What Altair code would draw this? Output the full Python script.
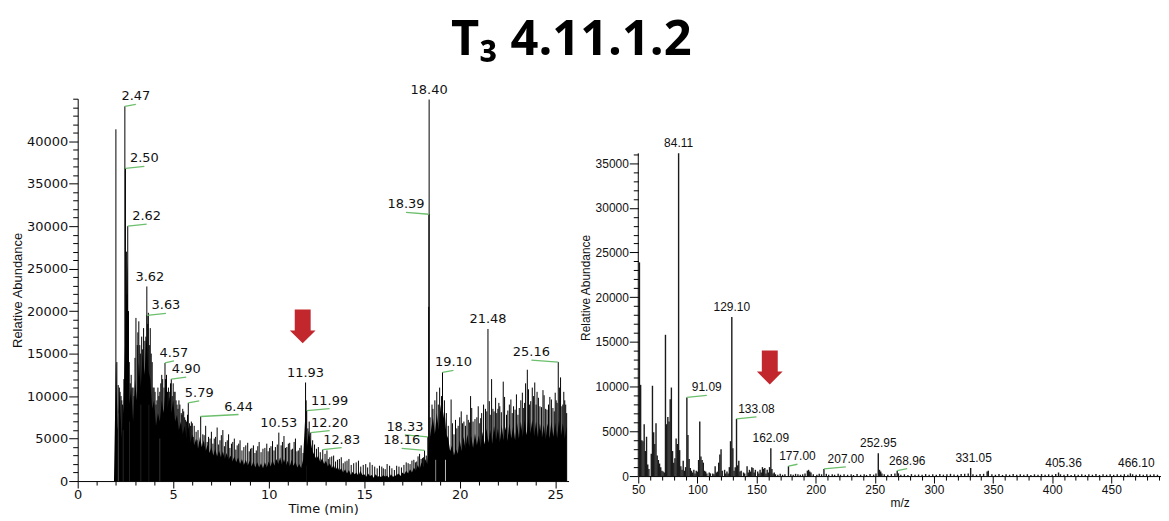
import altair as alt
import pandas as pd

# ---------------- chromatogram (left panel) ----------------
tic_start = 1.9   # min, first listed scan
tic_step = 0.1    # min between listed scans
tic_level = [
    0,
    14000, 6000, 10500, 5000, 9000, 18000, 26000, 9000, 11000, 7000,
    12000, 9500, 14000, 11000, 15000, 12500, 17000, 13000, 12000, 8500,
    9500, 6500, 8000, 7000, 9500, 8000, 11000, 8500, 10000, 8000,
    9500, 7000, 7800, 6000, 7000, 5500, 6500, 5000, 6500, 4500,
    5500, 4200, 5000, 3800, 5200, 4000, 4800, 3500, 4300, 3300,
    4000, 3000, 3800, 2900, 3600, 2800, 3500, 2600, 3300, 2500,
    3000, 2300, 2900, 2200, 2800, 2000, 2600, 1900, 2500, 1800,
    2400, 1700, 2300, 1600, 2200, 1600, 2100, 1500, 2200, 1600,
    2300, 1700, 2500, 1800, 2600, 2000, 2800, 1900, 2600, 1800,
    2400, 1700, 2500, 1800, 2300, 1600, 2000, 1500, 2500, 7000,
    4000, 6000, 4500, 3500, 3000, 2600, 3000, 2200, 2700, 2000,
    2400, 1700, 2100, 1500, 1900, 1300, 1700, 1200, 1500, 1000,
    1400, 900, 1300, 700, 1100, 800, 1000, 600, 1200, 700,
    800, 500, 900, 600, 700, 400, 800, 500, 600, 450,
    700, 500, 650, 400, 800, 500, 600, 700, 900, 600,
    1000, 800, 1200, 900, 1400, 1000, 1600, 1200, 1900, 1400,
    2200, 1600, 2600, 2000, 4500, 6000, 7500, 5500, 8000, 6000,
    9000, 7000, 8500, 5500, 5000, 3500, 4200, 3000, 3800, 3200,
    4800, 3500, 5200, 3800, 5500, 4000, 5300, 3900, 5600, 4200,
    5400, 4000, 5800, 4300, 6200, 4500, 6000, 4400, 6500, 4800,
    6200, 4600, 6600, 4800, 6400, 4700, 6800, 5000, 6500, 4800,
    6900, 5000, 7000, 5200, 7200, 5400, 7500, 5600, 7200, 5300,
    7000, 5100, 6800, 5000, 6600, 4900, 6800, 5000, 7000, 5200,
    6900, 5000, 7200, 5300, 6800, 5000, 6500,
]
tic_time = [round(tic_start + i * tic_step, 2) for i in range(len(tic_level))]

spike_time = [
    2.00, 2.05, 2.12, 2.18, 2.27, 2.35, 2.47, 2.50, 2.55, 2.62, 2.66, 2.75, 2.85, 2.95,
    3.05, 3.12, 3.20, 3.28, 3.35, 3.45, 3.52, 3.62, 3.63, 3.70, 3.80, 3.90,
    4.00, 4.10, 4.25, 4.35, 4.45, 4.57, 4.65, 4.75, 4.82, 4.90,
    5.00, 5.10, 5.20, 5.30, 5.42, 5.50, 5.60, 5.70, 5.79, 5.90,
    6.00, 6.10, 6.20, 6.30, 6.44, 6.55, 6.70, 6.85, 7.00, 7.15, 7.30, 7.45, 7.60, 7.75, 7.90,
    8.05, 8.20, 8.35, 8.50, 8.70, 8.90, 9.05, 9.20, 9.35, 9.50, 9.70, 9.90,
    10.05, 10.20, 10.35, 10.53, 10.65, 10.80, 10.95, 11.10, 11.25, 11.40, 11.55, 11.70,
    11.93, 11.96, 11.99, 12.05, 12.12, 12.20, 12.30, 12.40, 12.50, 12.60, 12.70, 12.83, 12.95,
    13.05, 13.20, 13.40, 13.60, 13.80, 14.00, 14.20, 14.45, 14.70, 14.95,
    15.30, 15.55, 15.80, 16.00, 16.20, 16.45, 16.70, 16.95, 17.20, 17.40, 17.60, 17.75, 17.90,
    18.05, 18.10, 18.16, 18.25, 18.33, 18.38, 18.39, 18.40, 18.45, 18.55, 18.60, 18.70, 18.80,
    18.88, 18.95, 19.05, 19.10, 19.20, 19.30, 19.40, 19.55, 19.70, 19.85,
    20.00, 20.15, 20.30, 20.45, 20.57, 20.70, 20.90, 21.05, 21.15, 21.35, 21.48, 21.60, 21.67, 21.80,
    22.00, 22.10, 22.28, 22.45, 22.60, 22.75, 22.90, 23.05, 23.20, 23.35, 23.45, 23.54, 23.65, 23.80, 23.93,
    24.05, 24.20, 24.36, 24.50, 24.65, 24.80, 24.95, 25.05, 25.16, 25.28, 25.40, 25.50, 25.60,
]
spike_level = [
    41400, 14000, 11300, 11000, 10000, 9000, 44100, 36800, 27000, 30000, 20000, 11500, 11000, 10000,
    19200, 16000, 18800, 15000, 17000, 18000, 16500, 22900, 19500, 19800, 18000, 14000,
    11000, 9000, 10000, 11500, 12000, 13900, 12500, 11000, 10500, 12000,
    11500, 10500, 9000, 9500, 8000, 8500, 7500, 7000, 9200, 6500,
    6800, 6500, 5800, 6000, 7600, 5500, 6500, 5200, 5800, 5000, 6300, 4800, 6000, 4600, 5500,
    4400, 5000, 4200, 4800, 4000, 4500, 3800, 4200, 3600, 4600, 3800, 4400,
    3900, 4700, 4000, 5700, 4200, 5300, 4000, 4500, 3800, 5000, 3600, 4200,
    11600, 9500, 8300, 6200, 7000, 5700, 4800, 4300, 3800, 4000, 3400, 3700, 3200,
    3600, 2800, 3000, 2500, 2800, 2300, 2600, 2100, 2400, 1900,
    2200, 1700, 1800, 1500, 2000, 1500, 1800, 1600, 2200, 2000, 2500, 2300, 3200,
    2700, 2800, 3600, 3000, 5200, 20500, 31400, 44900, 7500, 9000, 8500, 9500, 10500,
    9000, 11000, 10000, 12800, 9500, 8000, 6500, 9600, 5500, 6200,
    7500, 6800, 6500, 7200, 10000, 7000, 7500, 6800, 8000, 8500, 17900, 7800, 12000, 8200,
    8500, 8800, 11700, 7800, 9000, 8000, 8400, 7800, 9500, 8600, 11500, 13100, 9000, 11000, 11600,
    10500, 8800, 10700, 8500, 9000, 9600, 8200, 9500, 14000, 12200, 9000, 9500, 8000,
]

# smaller noise spikes between the main ones
noise_time = [
    2.22, 2.31, 2.42, 2.58, 2.70, 2.80, 2.90, 3.00, 3.15, 3.25, 3.40, 3.57, 3.67, 3.75, 3.85, 3.95,
    4.05, 4.15, 4.20, 4.30, 4.40, 4.52, 4.60, 4.70, 4.86, 4.95, 5.05, 5.15, 5.25, 5.35, 5.46,
    5.55, 5.65, 5.75, 5.85, 5.95,
    6.05, 6.25, 6.62, 6.78, 6.93, 7.08, 7.22, 7.38, 7.52, 7.68, 7.83, 7.97, 8.12, 8.28, 8.43,
    8.60, 8.80, 8.98, 9.12, 9.28, 9.43, 9.60, 9.80, 9.97, 10.12, 10.28, 10.45, 10.72, 10.88,
    11.03, 11.18, 11.33, 11.48, 11.63, 11.80,
    13.12, 13.30, 13.50, 13.70, 13.90, 14.10, 14.32, 14.58, 14.82, 15.08, 15.18, 15.42, 15.68,
    15.92, 16.10, 16.33, 16.58, 16.82, 17.08, 17.30, 17.50, 17.68, 17.82, 17.98,
    19.62, 19.78, 19.92, 20.08, 20.22, 20.38, 20.52, 20.63, 20.80, 20.97, 21.10, 21.25, 21.42,
    21.55, 21.74, 21.88, 21.94, 22.05, 22.18, 22.35, 22.52, 22.68, 22.82, 22.97, 23.12, 23.28,
    23.40, 23.60, 23.72, 23.87, 24.00, 24.12, 24.28, 24.42, 24.57, 24.72, 24.88, 25.00, 25.10,
    25.22, 25.35, 25.45, 25.55,
]
noise_level = [
    10500, 9500, 12000, 22000, 14000, 12500, 11000, 14500, 17500, 16000, 15500, 17000, 18500, 16000, 15000, 11000,
    10500, 9500, 11000, 10500, 12500, 11000, 12000, 10500, 11500, 10000, 10500, 9500, 8500, 9000, 7800,
    8200, 7200, 7800, 6800, 7000,
    5200, 4800, 5400, 4600, 5000, 4400, 5200, 4300, 5400, 4100, 4800, 3900, 4600, 3700, 4400,
    3600, 4200, 3500, 3900, 3300, 4100, 3400, 3900, 3500, 4100, 3600, 4300, 4600, 3900,
    4400, 3700, 4600, 3500, 3900, 3300,
    2600, 2900, 2300, 2600, 2100, 2400, 1900, 2200, 1700, 2000, 1600, 1900, 1500,
    1700, 1400, 1800, 1300, 1700, 1900, 2100, 2400, 2200, 2900, 2600,
    6800, 7200, 6500, 8200, 7000, 7800, 6900, 8600, 7300, 8800, 7400, 9000, 8200,
    9400, 8500, 9800, 8000, 9200, 8100, 9900, 8300, 9600, 8800, 10200, 8600, 10400,
    9200, 10800, 9400, 10000, 9000, 9800, 8700, 10100, 8400, 9900, 8600, 10400, 9200,
    11000, 8800, 10500, 9000,
]

dip_time = [2.13, 2.36, 2.70, 3.30, 3.72, 4.30, 11.97, 18.75, 19.25]
dip_level = [8000, 6000, 7000, 9000, 9000, 5000, 1800, 2500, 2500]

peak_time = [2.47, 2.50, 2.62, 3.62, 3.63, 4.57, 4.90, 5.79, 6.44, 10.53, 11.93, 11.99,
             12.20, 12.83, 18.16, 18.33, 18.39, 18.40, 19.10, 21.48, 25.16]
peak_level = [44100, 36800, 30000, 22900, 19500, 13900, 12000, 9200, 7600, 5700, 11600, 8300,
              5700, 3700, 3600, 5200, 31400, 44900, 12800, 17900, 14000]

# ---------------- mass spectrum (right panel) ----------------
mz = [
    51, 52, 53, 54, 55, 56, 57, 58, 59, 61, 62, 63, 64, 65, 66, 67, 68, 69, 70, 71, 72,
    73, 74, 75, 76, 77, 78, 79, 80, 81, 82, 83, 84.11, 85, 86, 87, 88, 89, 90,
    91.09, 92, 93, 94, 95, 96, 97, 98, 99, 100, 101, 102, 103, 104, 105, 106, 107, 108,
    110, 111, 113, 114, 115, 116, 117, 118, 119, 120, 121, 123, 124, 125, 126, 127, 128,
    129.10, 130, 131, 132, 133.08, 134, 135, 136, 137, 139, 140, 142, 143, 144, 145, 146,
    147, 148, 149, 151, 152, 153, 154, 155, 156, 157, 158, 159, 160, 161, 162.09, 163,
    164, 165, 166, 168, 170, 172, 174, 177.00, 179, 181, 183, 185, 187, 189, 191, 193,
    194, 195, 196, 198, 201, 203, 205, 207.00, 209, 211, 214, 216, 219, 221, 224, 227,
    230, 232, 235, 238, 241, 243, 246, 249, 251, 252.95, 254, 255, 256, 258, 261, 264,
    267, 268.96, 270, 272, 275, 278, 281, 284, 287, 290, 293, 296, 299, 302, 305, 308,
    311, 314, 317, 320, 323, 326, 329, 331.05, 333, 336, 339, 342, 345, 346, 349, 352,
    355, 358, 361, 364, 367, 370, 373, 376, 379, 382, 385, 388, 391, 394, 397, 400, 403,
    405.36, 407, 410, 413, 416, 419, 422, 425, 428, 431, 434, 437, 440, 443, 446, 449,
    452, 455, 458, 461, 464, 466.10, 468, 471, 474, 477, 480, 483, 486, 489,
]
abund = [
    23900, 10200, 4000, 3900, 5800, 2800, 4400, 1300, 800, 2500, 10100, 4900, 3600, 5900, 2300, 1800, 1400, 1000, 600, 500, 400,
    15800, 5800, 6600, 6100, 8600, 9900, 2800, 1500, 2000, 4200, 3600, 36100, 2900, 1100, 700, 1700, 600, 1000,
    8800, 4600, 1900, 900, 600, 400, 700, 300, 600, 500, 1800, 6100, 2200, 1800, 1500, 600, 500, 300,
    400, 300, 300, 200, 1100, 400, 500, 1500, 2400, 3000, 600, 700, 300, 500, 300, 1000, 3900,
    17800, 3100, 600, 1000, 6400, 1200, 1700, 500, 600, 400, 300, 1100, 400, 700, 500, 1000,
    900, 400, 700, 500, 300, 700, 400, 1000, 800, 900, 300, 700, 400, 1000, 3100, 800,
    300, 400, 200, 150, 250, 150, 200, 1100, 200, 150, 250, 200, 150, 200, 300, 600,
    700, 500, 400, 200, 150, 250, 200, 800, 250, 150, 200, 150, 250, 150, 200, 150,
    200, 120, 220, 150, 200, 130, 220, 160, 300, 2550, 700, 500, 300, 200, 150, 220,
    300, 600, 300, 150, 200, 130, 220, 150, 180, 140, 220, 160, 200, 150, 230, 160,
    200, 250, 180, 150, 220, 250, 300, 900, 200, 150, 220, 250, 500, 600, 200, 150,
    220, 130, 200, 150, 220, 140, 200, 160, 210, 130, 200, 150, 220, 140, 200, 150, 230,
    400, 200, 150, 220, 130, 200, 160, 210, 140, 200, 150, 220, 130, 200, 150, 210,
    140, 200, 160, 210, 150, 300, 200, 140, 210, 150, 200, 160, 210, 150,
]

mz_peak = [84.11, 91.09, 129.10, 133.08, 162.09, 177.00, 207.00, 252.95, 268.96, 331.05, 405.36, 466.10]
mz_peak_abund = [36100, 8800, 17800, 6400, 3100, 1100, 800, 2550, 600, 900, 400, 300]

# markers (red arrows)
arrow_time, arrow_level = [11.78], [18200]
arrow_mz, arrow_abund = [161.2], [12140]

# ---------------- layout / style constants ----------------
L_W, L_H = 493, 384
L_XMAX, L_YMAX = 25.7, 45000
R_W, R_H = 525, 379
R_XMIN, R_XMAX = 50, 492
R_YMAX = 42200          # frame extends above the axis line (spectrum panel sits lower)
R_AXIS_TOP = 36100
L_PPX = L_W / L_XMAX
L_PPY = L_H / L_YMAX
R_PPX = R_W / (R_XMAX - R_XMIN)
R_PPY = R_H / R_YMAX

GREEN = "#6cbf6c"
RED = "#C1272D"
ARROW = "M-0.47,-1L0.47,-1L0.47,0.24L0.76,0.24L0,1L-0.76,0.24L-0.47,0.24Z"

# label offsets (pixels to the right of the peak; negative = left)
LEFT_SHIFT = {2.47: 11, 2.50: 19, 2.62: 19, 3.62: 3, 3.63: 19, 4.57: 9, 4.90: 15, 5.79: 11,
              6.44: 38, 11.99: 23, 12.20: 19, 12.83: 19, 18.16: -23, 18.33: -23,
              18.39: -23, 19.10: 11, 25.16: -27}
RIGHT_SHIFT = {91.09: 20, 133.08: 20, 177.00: 9, 207.00: 22, 268.96: 10,
               331.05: 3, 405.36: 5, 466.10: 6}


def labels_frame(xs, ys, shifts, ppx, ppy):
    rows = []
    for x, y in zip(xs, ys):
        s = shifts.get(x, 0)
        rows.append({"x": x, "y": y, "lab": f"{x:.2f}", "xt": x + s / ppx,
                     "y2": y + 2 / ppy, "lead": abs(s) > 6})
    return pd.DataFrame(rows)


tic_df = pd.DataFrame({"x": tic_time, "y": tic_level})
spk_df = pd.DataFrame({"x": spike_time + noise_time, "y": spike_level + noise_level})
dip_df = pd.DataFrame({"x": dip_time, "y": dip_level})
llab_df = labels_frame(peak_time, peak_level, LEFT_SHIFT, L_PPX, L_PPY)
larr_df = pd.DataFrame({"x": arrow_time, "y": arrow_level})

ms_df = pd.DataFrame({"x": mz, "y": abund})
rlab_df = labels_frame(mz_peak, mz_peak_abund, RIGHT_SHIFT, R_PPX, R_PPY)
rarr_df = pd.DataFrame({"x": arrow_mz, "y": arrow_abund})
raxis_df = pd.DataFrame({"x": [R_XMIN], "y": [0], "y2": [R_AXIS_TOP]})


def cond(test, major, minor):
    return {"condition": {"test": test, "value": major}, "value": minor}


# ---------- left panel ----------
lx_scale = alt.Scale(domain=[0, L_XMAX], nice=False, zero=False)
ly_scale = alt.Scale(domain=[0, L_YMAX], nice=False)
lx_axis = alt.Axis(
    values=[i * 0.5 for i in range(0, 52)], format="d",
    labelExpr="datum.value % 5 === 0 ? datum.label : ''",
    tickSize=cond("datum.value % 5 === 0", 7, 4),
    labelFont="DejaVu Sans", labelFontSize=13, labelPadding=1, labelFlush=False,
    labelOverlap=False, title="Time (min)", titleFont="DejaVu Sans", titleFontSize=13,
    titleFontWeight="normal", titlePadding=1, grid=False)
ly_axis = alt.Axis(
    values=list(range(0, 45001, 1000)), format="d",
    labelExpr="datum.value % 5000 === 0 && datum.value < 45000 ? datum.label : ''",
    tickSize=cond("datum.value % 5000 === 0 && datum.value < 45000", 9, 5),
    labelFont="DejaVu Sans", labelFontSize=13, labelPadding=1, labelFlush=False,
    labelOverlap=False, title="Relative Abundance", titleFont="Liberation Sans",
    titleFontSize=13, titleFontWeight="normal", titlePadding=2, grid=False)

LX = lambda f="x": alt.X(f"{f}:Q", scale=lx_scale, axis=lx_axis)
LY = lambda f="y": alt.Y(f"{f}:Q", scale=ly_scale, axis=ly_axis)

l_area = alt.Chart(tic_df).mark_area(color="black", interpolate="linear").encode(
    x=LX(), y=LY())
l_dips = alt.Chart(dip_df).mark_rule(color="white", strokeWidth=1).encode(
    x=LX(), y=LY(), y2=alt.datum(0))
l_spk = alt.Chart(spk_df).mark_rule(color="black", strokeWidth=1).encode(
    x=LX(), y=LY(), y2=alt.datum(0))
l_lead = alt.Chart(llab_df).transform_filter("datum.lead").mark_rule(
    color=GREEN, strokeWidth=1.3).encode(x=LX(), y=LY(), x2="xt:Q", y2="y2:Q")
l_text = alt.Chart(llab_df).mark_text(
    font="DejaVu Sans", fontSize=13, color="#111", baseline="bottom", align="center", dy=-3
).encode(x=LX("xt"), y=LY(), text="lab:N")
l_arrow = alt.Chart(larr_df).mark_point(
    shape=ARROW, size=1156, filled=True, color=RED, opacity=1, strokeWidth=0
).encode(x=LX(), y=LY())

left = alt.layer(l_area, l_dips, l_spk, l_lead, l_text, l_arrow).properties(
    width=L_W, height=L_H)

# ---------- right panel ----------
rx_scale = alt.Scale(domain=[R_XMIN, R_XMAX], nice=False, zero=False)
ry_scale = alt.Scale(domain=[0, R_YMAX], nice=False)
rx_axis = alt.Axis(
    values=list(range(50, 491, 10)), format="d",
    labelExpr="datum.value % 50 === 0 ? datum.label : ''",
    tickSize=cond("datum.value % 50 === 0", 7, 4),
    labelFont="Liberation Sans", labelFontSize=12, labelPadding=2, labelFlush=False,
    labelOverlap=False, title="m/z", titleFont="Liberation Sans", titleFontSize=12,
    titleFontWeight="normal", titlePadding=2, grid=False)
ry_axis = alt.Axis(
    values=list(range(0, 36001, 1000)), format="d",
    labelExpr="datum.value % 5000 === 0 ? datum.label : ''",
    tickSize=cond("datum.value % 5000 === 0", 9, 5),
    labelFont="Liberation Sans", labelFontSize=12, labelPadding=1, labelFlush=False,
    labelOverlap=False, title="Relative Abundance", titleFont="Liberation Sans",
    titleFontSize=12, titleFontWeight="normal", titlePadding=3, grid=False, domain=False)

RX = lambda f="x": alt.X(f"{f}:Q", scale=rx_scale, axis=rx_axis)
RY = lambda f="y": alt.Y(f"{f}:Q", scale=ry_scale, axis=ry_axis)

r_sticks = alt.Chart(ms_df).mark_rule(color="#1a1a1a", strokeWidth=1.4).encode(
    x=RX(), y=RY(), y2=alt.datum(0))
r_axisline = alt.Chart(raxis_df).mark_rule(color="black", strokeWidth=1).encode(
    x=RX(), y=RY(), y2="y2:Q")
r_lead = alt.Chart(rlab_df).transform_filter("datum.lead").mark_rule(
    color=GREEN, strokeWidth=1.3).encode(x=RX(), y=RY(), x2="xt:Q", y2="y2:Q")
r_text = alt.Chart(rlab_df).mark_text(
    font="Liberation Sans", fontSize=12, color="#111", baseline="bottom", align="center", dy=-3
).encode(x=RX("xt"), y=RY(), text="lab:N")
r_arrow = alt.Chart(rarr_df).mark_point(
    shape=ARROW, size=1156, filled=True, color=RED, opacity=1, strokeWidth=0
).encode(x=RX(), y=RY())

right = alt.layer(r_sticks, r_axisline, r_lead, r_text, r_arrow).properties(
    width=R_W, height=R_H)

chart = alt.hconcat(left, right, spacing=10).properties(
    title=alt.TitleParams(text="T₃ 4.11.1.2", font="Open Sans", fontSize=49,
                          fontWeight="bold", color="black", anchor="middle",
                          offset=19, dx=-15),
    padding={"left": 3, "top": 6, "right": 0, "bottom": 0},
).configure_view(stroke=None).configure_axis(
    domainColor="black", tickColor="black", labelColor="#111", titleColor="#111",
    domainWidth=1, tickWidth=1)

chart.save("out.html", embed_options={"renderer": "svg", "actions": False})
